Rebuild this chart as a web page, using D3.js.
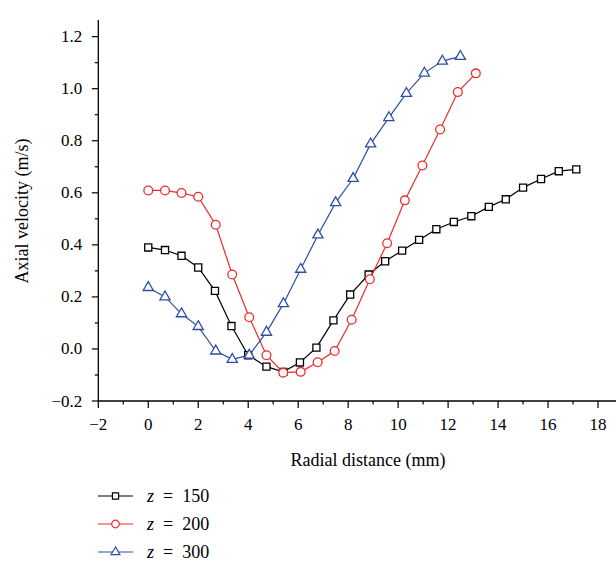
<!DOCTYPE html>
<html>
<head>
<meta charset="utf-8">
<script src="https://cdn.jsdelivr.net/npm/d3@7"></script>
<style>
  body { margin: 0; background: #fff; }
</style>
</head>
<body>
<svg id="chart" width="616" height="562" font-family="'Liberation Serif', 'Times New Roman', 'DejaVu Serif', serif"></svg>
<script>
// z = 150 (black squares)
var x150 = [0, 0.67, 1.33, 2.0, 2.67, 3.33, 4.0, 4.73, 5.4, 6.07, 6.73, 7.41, 8.08, 8.82, 9.48,
            10.16, 10.84, 11.53, 12.23, 12.93, 13.63, 14.31, 15.0, 15.72, 16.43, 17.13];
var y150 = [0.39, 0.38, 0.358, 0.313, 0.223, 0.088, -0.024, -0.068, -0.088, -0.052, 0.005, 0.11, 0.209, 0.286, 0.337,
            0.378, 0.419, 0.46, 0.488, 0.51, 0.546, 0.575, 0.62, 0.653, 0.683, 0.69];
// z = 200 (red circles)
var x200 = [0, 0.67, 1.33, 2.0, 2.7, 3.36, 4.04, 4.73, 5.4, 6.1, 6.78, 7.46, 8.14, 8.87, 9.56,
            10.27, 10.97, 11.68, 12.39, 13.11];
var y200 = [0.609, 0.609, 0.599, 0.585, 0.477, 0.286, 0.122, -0.024, -0.091, -0.088, -0.051, -0.008, 0.112, 0.268, 0.406,
            0.571, 0.705, 0.843, 0.987, 1.059];
// z = 300 (blue triangles)
var x300 = [0, 0.67, 1.33, 2.0, 2.7, 3.36, 4.04, 4.73, 5.41, 6.1, 6.79, 7.5, 8.2, 8.9, 9.63,
            10.33, 11.05, 11.77, 12.49];
var y300 = [0.236, 0.2, 0.135, 0.086, -0.008, -0.04, -0.024, 0.064, 0.174, 0.306, 0.438, 0.562, 0.655, 0.788, 0.889,
            0.982, 1.06, 1.106, 1.124];

var xTicks = [-2, 0, 2, 4, 6, 8, 10, 12, 14, 16, 18];
var yTicks = [-0.2, 0.0, 0.2, 0.4, 0.6, 0.8, 1.0, 1.2];

var series = [
  {name: '150', xs: x150, ys: y150, color: '#000000', symbol: d3.symbolSquare, size: 50},
  {name: '200', xs: x200, ys: y200, color: '#ee2a2a', symbol: d3.symbolCircle, size: 60},
  {name: '300', xs: x300, ys: y300, color: '#2e4ea6', symbol: d3.symbolTriangle, size: 45}
];

var svg = d3.select('#chart');
var x = d3.scaleLinear().domain([-2, 18.72]).range([98.3, 616]);
var y = d3.scaleLinear().domain([-0.2, 1.264]).range([401, 20]);

// minor ticks
var xMinor = d3.range(-2, 18.01, 1);
var yMinor = d3.range(-0.2, 1.21, 0.1);

var gx = svg.append('g').attr('transform', 'translate(0,401)');
gx.append('line').attr('x1', x.range()[0]).attr('x2', 616).attr('stroke', '#000').attr('stroke-width', 1.3);
gx.selectAll('.minor').data(xMinor).enter().append('line')
  .attr('x1', function(d){ return x(d); }).attr('x2', function(d){ return x(d); })
  .attr('y1', 0).attr('y2', function(d, i){ return i % 2 === 0 ? 7 : 3.5; })
  .attr('stroke', '#000').attr('stroke-width', 1.2);
gx.selectAll('.lab').data(xTicks).enter().append('text')
  .attr('x', function(d){ return x(d); }).attr('y', 29)
  .attr('text-anchor', 'middle').attr('font-size', 17)
  .text(function(d){ return d < 0 ? '\u2212' + Math.abs(d) : d; });

var gy = svg.append('g').attr('transform', 'translate(98.3,0)');
gy.append('line').attr('y1', 20).attr('y2', 401).attr('stroke', '#000').attr('stroke-width', 1.3);
gy.selectAll('.minor').data(yMinor).enter().append('line')
  .attr('y1', function(d){ return y(d); }).attr('y2', function(d){ return y(d); })
  .attr('x1', 0).attr('x2', function(d, i){ return i % 2 === 0 ? -6.5 : -3.5; })
  .attr('stroke', '#000').attr('stroke-width', 1.2);
gy.selectAll('.lab').data(yTicks).enter().append('text')
  .attr('x', -16).attr('y', function(d){ return y(d) + 5.5; })
  .attr('text-anchor', 'end').attr('font-size', 17)
  .text(function(d){ return d < 0 ? '\u2212' + Math.abs(d).toFixed(1) : d.toFixed(1); });

svg.append('text').attr('x', 368).attr('y', 466).attr('text-anchor', 'middle')
  .attr('font-size', 18).text('Radial distance (mm)');
svg.append('text').attr('transform', 'translate(28,211) rotate(-90)').attr('text-anchor', 'middle')
  .attr('font-size', 18).text('Axial velocity (m/s)');

var line = d3.line().x(function(d){ return x(d[0]); }).y(function(d){ return y(d[1]); });

series.forEach(function(s) {
  var pts = d3.zip(s.xs, s.ys);
  svg.append('path').datum(pts).attr('d', line)
    .attr('fill', 'none').attr('stroke', s.color).attr('stroke-width', 1.2);
  svg.selectAll(null).data(pts).enter().append('path')
    .attr('d', d3.symbol().type(s.symbol).size(s.size))
    .attr('transform', function(d){ return 'translate(' + x(d[0]) + ',' + y(d[1]) + ')'; })
    .attr('fill', '#fff').attr('stroke', s.color).attr('stroke-width', 1.3);
});

// legend
var leg = svg.append('g');
series.forEach(function(s, i) {
  var ly = 496 + i * 28;
  leg.append('line').attr('x1', 98).attr('x2', 133).attr('y1', ly).attr('y2', ly)
    .attr('stroke', s.color).attr('stroke-width', 1.2);
  leg.append('path').attr('d', d3.symbol().type(s.symbol).size(s.size * 0.75))
    .attr('transform', 'translate(115.5,' + ly + ')')
    .attr('fill', '#fff').attr('stroke', s.color).attr('stroke-width', 1.2);
  var t = leg.append('text').attr('x', 147).attr('y', ly + 6).attr('font-size', 18);
  t.append('tspan').attr('font-style', 'italic').text('z');
  t.append('tspan').text('\u2002=\u2002' + s.name);
});
</script>
</body>
</html>
